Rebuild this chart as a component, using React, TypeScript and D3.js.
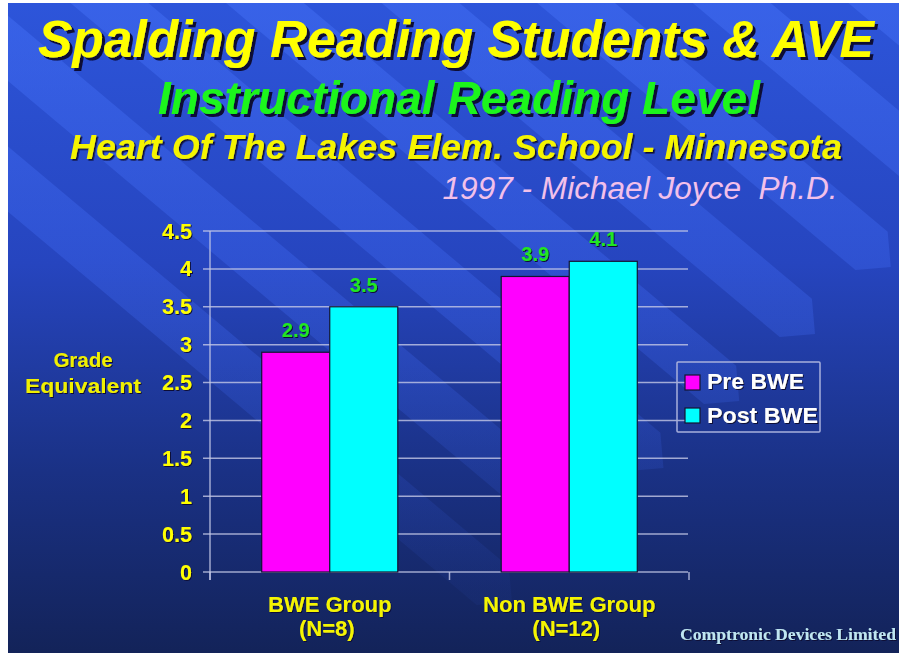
import * as d3 from "d3";
import { useEffect, useRef } from "react";

const categories = ["BWE Group", "Non BWE Group"];
const categoryNotes = ["(N=8)", "(N=12)"];
const seriesNames = ["Pre BWE", "Post BWE"];
const preValues = [2.9, 3.9];
const postValues = [3.5, 4.1];
const seriesColors = ["#ff00ff", "#00ffff"];
const yTicks = [0, 0.5, 1, 1.5, 2, 2.5, 3, 3.5, 4, 4.5];
const yTickLabels = ["0", "0.5", "1", "1.5", "2", "2.5", "3", "3.5", "4", "4.5"];

const W = 899;
const H = 653;
const SANS = "'Liberation Sans', Arial, Helvetica, sans-serif";

type TextOpts = {
  size: number;
  fill: string;
  weight?: string;
  italic?: boolean;
  anchor?: string;
  shadow?: string;
  length?: number;
  family?: string;
};

function App() {
  const ref = useRef<SVGSVGElement>(null);

  useEffect(() => {
    if (!ref.current) return;
    const svg = d3.select(ref.current);
    svg.selectAll("*").remove();

    const defs = svg.append("defs");
    const bg = defs.append("linearGradient").attr("id", "bg")
      .attr("x1", 0).attr("y1", 0).attr("x2", 0).attr("y2", 1);
    bg.append("stop").attr("offset", 0).attr("stop-color", "#2d55da");
    bg.append("stop").attr("offset", 0.4).attr("stop-color", "#2645bf");
    bg.append("stop").attr("offset", 0.72).attr("stop-color", "#1a3185");
    bg.append("stop").attr("offset", 1).attr("stop-color", "#132359");

    const bandGrad = defs.append("linearGradient").attr("id", "band")
      .attr("gradientUnits", "userSpaceOnUse")
      .attr("x1", 0).attr("y1", 0).attr("x2", 0).attr("y2", H);
    bandGrad.append("stop").attr("offset", 0).attr("stop-color", "#4a78ff").attr("stop-opacity", 0.38);
    bandGrad.append("stop").attr("offset", 0.5).attr("stop-color", "#4470ff").attr("stop-opacity", 0.26);
    bandGrad.append("stop").attr("offset", 0.9).attr("stop-color", "#3a64f0").attr("stop-opacity", 0.06);

    const shadow = (id: string, d: number) => defs.append("filter").attr("id", id)
      .attr("x", "-5%").attr("y", "-20%").attr("width", "115%").attr("height", "150%")
      .append("feDropShadow").attr("dx", d).attr("dy", d).attr("stdDeviation", 0.4)
      .attr("flood-color", "#0b1034").attr("flood-opacity", 1);
    shadow("sh3", 3);
    shadow("sh2", 1.6);
    shadow("sh1", 1);

    defs.append("clipPath").attr("id", "bgclip")
      .append("rect").attr("x", 8).attr("y", 3).attr("width", W - 8).attr("height", H - 3);

    // background with diagonal arrow stripes
    const back = svg.append("g").attr("clip-path", "url(#bgclip)");
    back.append("rect").attr("x", 8).attr("y", 3).attr("width", W - 8).attr("height", H - 3)
      .attr("fill", "url(#bg)");

    const th = (40 * Math.PI) / 180;
    const toScreen = (u: number, v: number): [number, number] =>
      [u * Math.cos(th) - v * Math.sin(th), u * Math.sin(th) + v * Math.cos(th)];
    const stripes = d3.range(-6, 3).map(k => -68 + 100 * k);
    back.selectAll("path.band")
      .data(stripes)
      .join("path")
      .attr("class", "band")
      .attr("fill", "url(#band)")
      .attr("d", vc => {
        const tip = 809 - 0.15 * (vc + 68);
        const pts: [number, number][] = [
          [-400, vc - 25], [tip - 25, vc - 25], [tip, vc], [tip - 25, vc + 25], [-400, vc + 25],
        ];
        return d3.line()(pts.map(p => toScreen(p[0], p[1]))) + "Z";
      });

    const text = (g: d3.Selection<any, any, any, any>, x: number, y: number, s: string, o: TextOpts) => {
      const t = g.append("text")
        .attr("x", x).attr("y", y)
        .attr("font-family", o.family || SANS)
        .attr("font-size", o.size)
        .attr("font-weight", o.weight || "bold")
        .attr("font-style", o.italic ? "italic" : "normal")
        .attr("text-anchor", o.anchor || "middle")
        .attr("fill", o.fill)
        .style("white-space", "pre")
        .text(s);
      if (o.shadow) t.attr("filter", `url(#${o.shadow})`);
      if (o.length) t.attr("textLength", o.length).attr("lengthAdjust", "spacingAndGlyphs");
    };

    // titles
    const titles = svg.append("g");
    text(titles, 456, 57, "Spalding Reading Students & AVE", { size: 51, fill: "#ffff00", italic: true, shadow: "sh3", length: 836 });
    text(titles, 459, 114, "Instructional Reading Level", { size: 47, fill: "#1ef51e", italic: true, shadow: "sh3", length: 602 });
    text(titles, 456, 159, "Heart Of The Lakes Elem. School - Minnesota", { size: 35, fill: "#f5f500", italic: true, shadow: "sh2", length: 772 });
    text(titles, 640, 199, "1997 - Michael Joyce  Ph.D.", { size: 31, fill: "#f2c0ea", italic: true, weight: "normal", length: 395 });

    // scales
    const y = d3.scaleLinear().domain([0, 4.5]).range([572, 231]);
    const x0 = d3.scaleBand().domain(categories).range([210, 689]).paddingInner(0).paddingOuter(0);
    const x1 = d3.scaleBand().domain(seriesNames).range([0, x0.bandwidth()]).paddingInner(0).paddingOuter(0.76);

    const plot = svg.append("g");
    // gridlines
    plot.selectAll("line.grid")
      .data(yTicks)
      .join("line")
      .attr("class", "grid")
      .attr("x1", 203).attr("x2", 688)
      .attr("y1", d => y(d)).attr("y2", d => y(d))
      .attr("stroke", "#c4c8e6").attr("stroke-opacity", 0.8).attr("stroke-width", 1.5);

    // y axis
    plot.append("line").attr("x1", 210).attr("x2", 210).attr("y1", y(4.5)).attr("y2", y(0) + 8)
      .attr("stroke", "#c4c8e6").attr("stroke-opacity", 0.8).attr("stroke-width", 1.5);
    // x axis ticks
    plot.selectAll("line.xtick")
      .data([...categories.map(c => x0(c)!), 689])
      .join("line")
      .attr("class", "xtick")
      .attr("x1", d => d).attr("x2", d => d)
      .attr("y1", y(0)).attr("y2", y(0) + 8)
      .attr("stroke", "#c4c8e6").attr("stroke-opacity", 0.8).attr("stroke-width", 1.5);

    // tick labels
    yTicks.forEach((t, i) => {
      text(plot, 192, y(t) + 7.5, yTickLabels[i], { size: 21.5, fill: "#ffff00", anchor: "end", shadow: "sh1" });
    });

    text(plot, 83, 367, "Grade", { size: 20.5, fill: "#f0f000", shadow: "sh1" });
    text(plot, 83, 393, "Equivalent", { size: 20.5, fill: "#f0f000", shadow: "sh1", length: 116 });

    // bars
    const rows = categories.map((c, i) => ({ c, vals: [preValues[i], postValues[i]] }));
    const groups = plot.selectAll("g.cat")
      .data(rows)
      .join("g")
      .attr("class", "cat")
      .attr("transform", d => `translate(${x0(d.c)},0)`);

    groups.selectAll("rect")
      .data(d => d.vals.map((v, j) => ({ s: seriesNames[j], v, j })))
      .join("rect")
      .attr("x", d => x1(d.s)!)
      .attr("width", x1.bandwidth())
      .attr("y", d => y(d.v))
      .attr("height", d => y(0) - y(d.v))
      .attr("fill", d => seriesColors[d.j])
      .attr("stroke", "#141432")
      .attr("stroke-width", 1.2);

    rows.forEach(r => {
      r.vals.forEach((v, j) => {
        const cx = x0(r.c)! + x1(seriesNames[j])! + x1.bandwidth() / 2;
        text(plot, cx, y(v) - 15, v.toFixed(1), { size: 20, fill: "#20e620", shadow: "sh1" });
      });
    });

    // category labels
    categories.forEach((c, i) => {
      const cx = x0(c)! + x0.bandwidth() / 2;
      text(plot, cx, 612, c, { size: 22, fill: "#f5f500", shadow: "sh1" });
      text(plot, cx - 3, 636, categoryNotes[i], { size: 22, fill: "#f5f500", shadow: "sh1" });
    });

    // legend
    const legend = svg.append("g").attr("transform", "translate(677,362)");
    legend.append("rect").attr("width", 143).attr("height", 70)
      .attr("fill", "none").attr("stroke", "#a8b0dc").attr("stroke-width", 1.5).attr("rx", 1);
    seriesNames.forEach((s, i) => {
      legend.append("rect").attr("x", 8).attr("y", 13 + i * 33).attr("width", 15).attr("height", 15)
        .attr("fill", seriesColors[i]).attr("stroke", "#141432").attr("stroke-width", 1.2);
      text(legend, 30, 27 + i * 34, s, { size: 22, fill: "#ffffff", anchor: "start", shadow: "sh1", length: i === 0 ? 97 : 111 });
    });

    // footer
    text(svg, 788, 640, "Comptronic Devices Limited", {
      size: 16, fill: "#bfe6f2", family: "'Liberation Serif', 'Times New Roman', serif", length: 216, shadow: "sh1",
    });
  }, []);

  return (
    <svg ref={ref} width={W} height={H}
      style={{ position: "absolute", left: 0, top: 0, display: "block", background: "#ffffff" }} />
  );
}

export default App;
